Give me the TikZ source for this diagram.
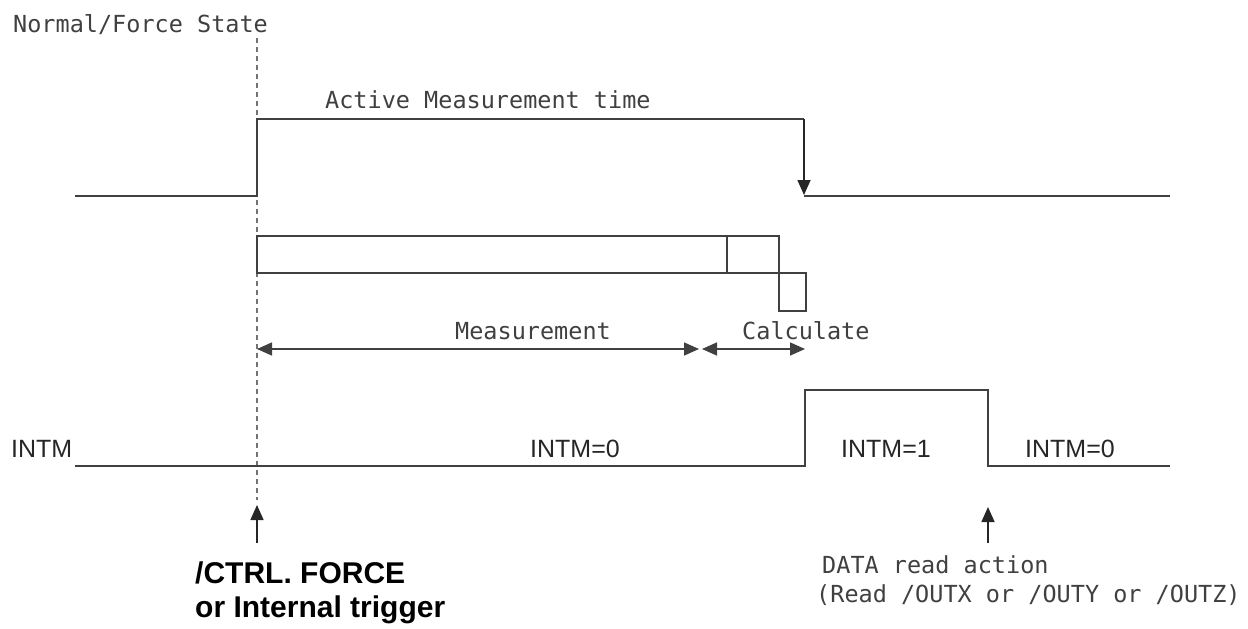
\documentclass[tikz,border=0pt]{standalone}
\usepackage{fontspec}
\setmainfont{Liberation Sans}
\setmonofont{DejaVu Sans Mono}
\usetikzlibrary{arrows.meta}
\usetikzlibrary{positioning}
\tikzstyle{signal}=[line width=1.6pt, draw=black!75]
\tikzstyle{frame}=[line width=1.3pt, draw=black!75]
\tikzstyle{guide}=[line width=1.3pt, draw=black!55, dash pattern=on 5pt off 4pt]
\tikzstyle{mono label}=[font=\fontsize{23.5}{26}\selectfont\ttfamily, text=black!75, inner sep=0pt]
\tikzstyle{sans label}=[font=\fontsize{25}{28}\selectfont, text=black!85, inner sep=0pt]
\tikzstyle{bold label}=[font=\fontsize{30}{34}\selectfont\bfseries, inner sep=0pt, align=left]
\tikzstyle{tip}=[-{Triangle[length=15pt,width=13pt]}, line width=1.6pt, draw=black!85, fill=black]
\tikzstyle{span}=[{Triangle[length=15pt,width=13pt]}-{Triangle[length=15pt,width=13pt]}, line width=1.6pt, draw=black!75]

\begin{document}
\begin{tikzpicture}[x=1pt, y=-1pt]
  \useasboundingbox (0,0) rectangle (1248,629);

  % labels
  \node[mono label, anchor=base west] (state) at (13,32) {Normal/Force State};
  \node[mono label, anchor=base west] (active) at (325,108) {Active Measurement time};
  \node[mono label, anchor=base] (meas) at (533,339) {Measurement};
  \node[mono label, anchor=base west] (calc) at (742,339) {Calculate};
  \node[sans label, anchor=base west] (intm) at (11,457) {INTM};
  \node[sans label, anchor=base] (intm low) at (575,457) {INTM=0};
  \node[sans label, anchor=base] (intm high) at (886,457) {INTM=1};
  \node[sans label, anchor=base] (intm low2) at (1070,457) {INTM=0};
  \node[bold label, anchor=base west] (force) at (195,583) {/CTRL. FORCE};
  \node[bold label, anchor=base west] (internal) at (195,617) {or Internal trigger};
  \node[mono label, anchor=base west] (read) at (822,573) {DATA read action};
  \node[mono label, anchor=base west] (outs) at (816,602) {(Read /OUTX or /OUTY or /OUTZ)};

  % trigger instant
  \coordinate (start top) at (257,38);
  \coordinate (start bot) at (257,500);
  \draw[guide] (start top) -- (start bot);

  % normal/force state
  \draw[signal] (75,196) -- (257,196) -- (257,119) -- (804,119);
  \draw[signal] (804,196) -- (1170,196);
  \coordinate (fall top) at (804,119);
  \coordinate (fall bot) at (804,195);
  \draw[tip] (fall top) -- (fall bot);

  % measurement / calculate blocks
  \draw[frame] (257,236) rectangle (727,273);
  \draw[frame] (727,236) rectangle (779,273);
  \draw[frame] (779,273) rectangle (806,311);

  \coordinate (m0) at (257,349);
  \coordinate (m1) at (699,349);
  \coordinate (c0) at (702,349);
  \coordinate (c1) at (805,349);
  \draw[span] (m0) -- (m1);
  \draw[span] (c0) -- (c1);

  % INTM
  \draw[signal] (75,466) -- (805,466) -- (805,390) -- (988,390) -- (988,466) -- (1170,466);

  % trigger and read arrows
  \coordinate (trig foot) at (257,543);
  \coordinate (trig tip) at (257,505);
  \coordinate (read foot) at (988,543);
  \coordinate (read tip) at (988,507);
  \draw[tip] (trig foot) -- (trig tip);
  \draw[tip] (read foot) -- (read tip);
\end{tikzpicture}
\end{document}
